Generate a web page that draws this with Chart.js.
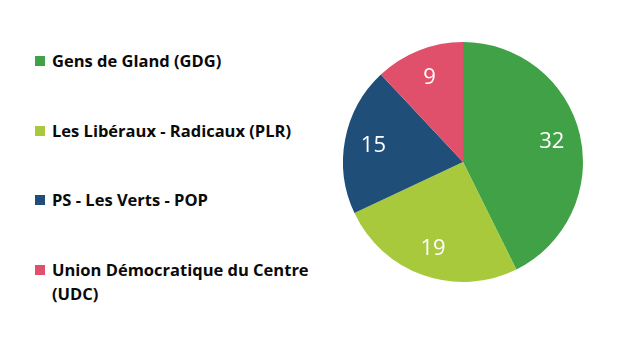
<!DOCTYPE html>
<html>
<head>
<meta charset="utf-8">
<script src="https://cdn.jsdelivr.net/npm/chart.js@4/dist/chart.umd.min.js"></script>
<style>
	body { margin: 0; background: #fff; width: 617px; height: 352px; position: relative; overflow: hidden; font-family: "Open Sans", sans-serif; }
	#legend { position: absolute; left: 35px; top: 0; }
	.item { position: absolute; left: 0; width: 290px; font-weight: bold; font-size: 16.5px; line-height: 24px; color: #0a0a0a; }
	.box { position: absolute; left: 0; top: 7px; width: 10px; height: 10px; }
	.txt { position: absolute; left: 17px; top: 0; width: 270px; white-space: nowrap; }
	#wrap { position: absolute; left: 333px; top: 32px; width: 260px; height: 260px; }
</style>
</head>
<body>
<div id="legend"></div>
<div id="wrap"><canvas id="myChart"></canvas></div>
<script>
const labels = ["Gens de Gland (GDG)", "Les Libéraux - Radicaux (PLR)", "PS - Les Verts - POP", "Union Démocratique du Centre"];
const labelsSecondLine = ["", "", "", "(UDC)"];
const seats = [32, 19, 15, 9];
const colors = ["#41a146", "#a7c93b", "#1f4e79", "#e0506a"];

// legend on the left, made from the same arrays
const legendTops = [49, 119, 188, 258];
let html = "";
labels.forEach((name, i) => {
	let text = name;
	if (labelsSecondLine[i]) text += "<br>" + labelsSecondLine[i];
	html += `<div class="item" style="top:${legendTops[i]}px"><div class="box" style="background:${colors[i]}"></div><div class="txt">${text}</div></div>`;
});
document.getElementById("legend").innerHTML = html;

// white numbers inside the slices
const sliceLabels = {
	id: "sliceLabels",
	afterDatasetsDraw(chart) {
		const c = chart.ctx;
		const meta = chart.getDatasetMeta(0);
		c.save();
		c.fillStyle = "#fff";
		c.font = "22px 'Open Sans'";
		c.textAlign = "center";
		c.textBaseline = "middle";
		meta.data.forEach((arc, i) => {
			const mid = (arc.startAngle + arc.endAngle) / 2;
			const r = arc.outerRadius * 0.76;
			c.fillText(seats[i], arc.x + Math.cos(mid) * r, arc.y + Math.sin(mid) * r + 1);
		});
		c.restore();
	},
};

const ctx = document.getElementById("myChart");
new Chart(ctx, {
	type: "pie",
	data: {
		labels: labels,
		datasets: [
			{
				data: seats,
				backgroundColor: colors,
				borderWidth: 0,
			},
		],
	},
	options: {
		responsive: true,
		maintainAspectRatio: false,
		animation: false,
		layout: { padding: 10 },
		plugins: {
			legend: { display: false },
			tooltip: { enabled: false },
		},
	},
	plugins: [sliceLabels],
});
</script>
</body>
</html>
